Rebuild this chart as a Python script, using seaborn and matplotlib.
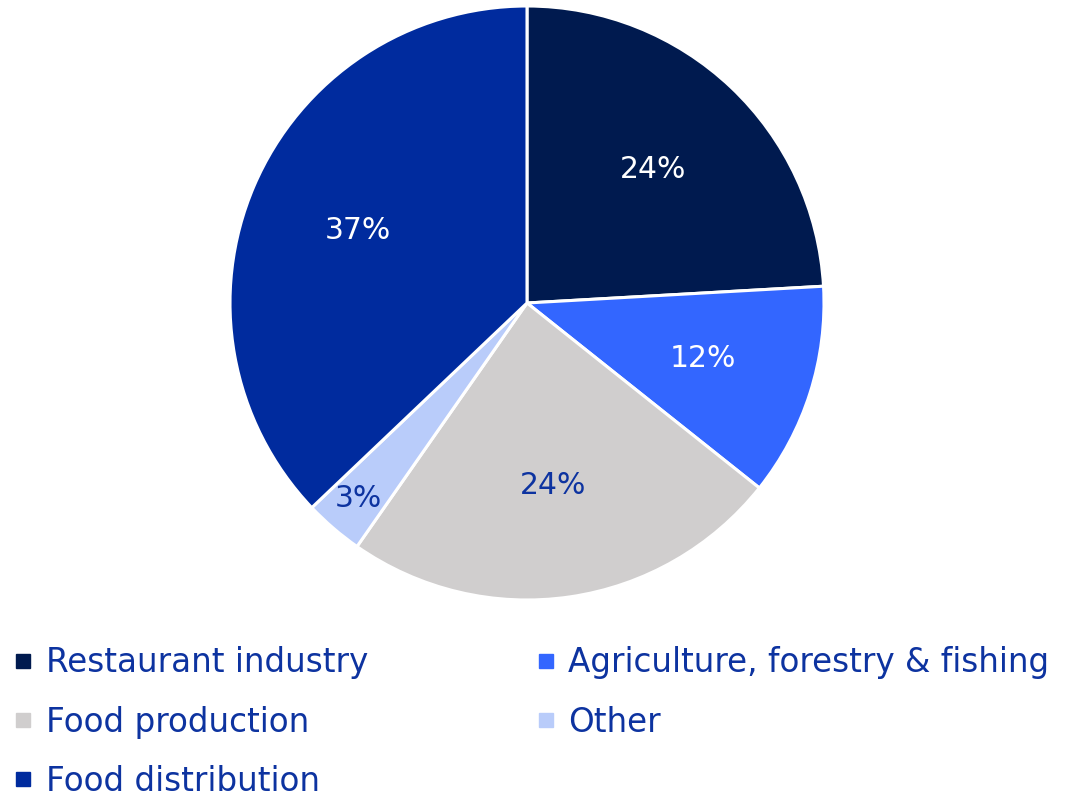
import numpy as np
import matplotlib
matplotlib.use("Agg")
import matplotlib.pyplot as plt
from matplotlib.lines import Line2D
import seaborn as sns

categories = ["Restaurant industry", "Agriculture, forestry & fishing",
              "Food production", "Other", "Food distribution"]
values = [24.1, 11.6, 24.0, 3.2, 37.1]
colors = ["#001A4F", "#3366FF", "#D0CECE", "#B9CCFA", "#002B9E"]
label_colors = ["white", "white", "#0D33A0", "#0D33A0", "white"]
legend_col1 = [0, 2, 4]
legend_col2 = [1, 3]

sns.set_theme(style="white")
plt.rcParams['font.family'] = ['DejaVu Sans']

fig = plt.figure(figsize=(10.66, 8), dpi=100)
cx, cy, r = 527, 303, 297
ax = fig.add_axes([(cx - r) / 1066, (800 - cy - r) / 800, 2 * r / 1066, 2 * r / 800])

wedges, texts, autotexts = ax.pie(
    values, colors=colors, startangle=90, counterclock=False,
    autopct=lambda p: f"{p:.0f}%", pctdistance=0.62,
    wedgeprops=dict(edgecolor="white", linewidth=2.2),
    textprops=dict(fontsize=21.5))
for t, c in zip(autotexts, label_colors):
    t.set_color(c)
# push the small slice label outward
w = wedges[3]
ang = np.deg2rad((w.theta1 + w.theta2) / 2)
autotexts[3].set_position((0.87 * np.cos(ang), 0.87 * np.sin(ang)))
ax.set_xlim(-1, 1)
ax.set_ylim(-1, 1)
ax.set_aspect("equal")

def make_handles(idx):
    return [Line2D([0], [0], marker="s", linestyle="none", markersize=10.5,
                   markerfacecolor=colors[i], markeredgecolor=colors[i]) for i in idx]

common = dict(frameon=False, fontsize=23.5, labelcolor="#0D33A0", handlelength=0.55,
              handletextpad=0.4, labelspacing=0.8, borderpad=0, borderaxespad=0,
              loc="upper left")
leg1 = fig.legend(make_handles(legend_col1), [categories[i] for i in legend_col1],
                  bbox_to_anchor=(0.0136, 0.192), **common)
leg2 = fig.legend(make_handles(legend_col2), [categories[i] for i in legend_col2],
                  bbox_to_anchor=(0.504, 0.192), **common)

fig.savefig("out.png", dpi=100)
